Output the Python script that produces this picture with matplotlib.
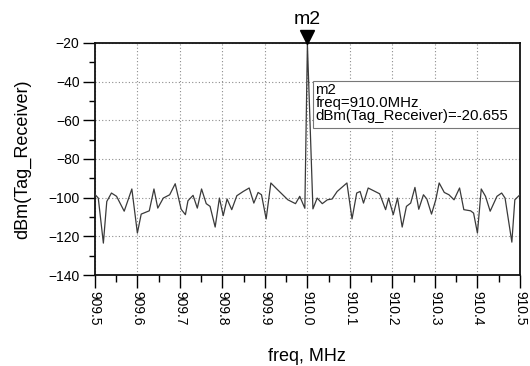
import matplotlib
matplotlib.use("Agg")
import matplotlib.pyplot as plt
from matplotlib.patches import Rectangle
from matplotlib.ticker import MultipleLocator
from matplotlib.transforms import offset_copy

plt.rcParams['font.family'] = ['Liberation Sans', 'DejaVu Sans']

# Spectrum of the tag receiver output around the 910 MHz carrier
freq_mhz = [
    909.500, 909.508, 909.520, 909.528, 909.539, 909.551, 909.569, 909.587,
    909.600, 909.609, 909.628, 909.639, 909.648, 909.661, 909.676, 909.689,
    909.703, 909.713, 909.719, 909.731, 909.741, 909.751, 909.762, 909.771,
    909.783, 909.793, 909.802, 909.811, 909.822, 909.834, 909.849, 909.863,
    909.874, 909.884, 909.892, 909.903, 909.914, 909.928, 909.954, 909.972,
    909.982, 909.994, 910.000, 910.013, 910.023, 910.035, 910.047, 910.058,
    910.070, 910.093, 910.105, 910.116, 910.124, 910.132, 910.143, 910.170,
    910.184, 910.191, 910.202, 910.212, 910.223, 910.233, 910.243, 910.253,
    910.262, 910.273, 910.281, 910.292, 910.302, 910.310, 910.322, 910.333,
    910.345, 910.358, 910.368, 910.384, 910.391, 910.400, 910.409, 910.419,
    910.430, 910.446, 910.457, 910.465, 910.481, 910.488, 910.500,
]
dbm_tag_receiver = [
    -98.3, -100.2, -123.5, -102.0, -97.6, -99.3, -107.0, -95.5,
    -118.3, -108.5, -106.8, -95.5, -105.4, -100.2, -98.5, -92.8,
    -106.0, -108.8, -101.6, -98.8, -105.4, -95.5, -103.1, -104.5,
    -115.2, -100.2, -109.3, -100.7, -106.2, -99.0, -96.8, -95.0,
    -102.8, -97.3, -98.5, -111.0, -92.4, -95.5, -101.1, -103.1,
    -99.3, -105.5, -20.655, -105.8, -100.2, -103.1, -101.1, -100.7,
    -96.8, -92.4, -111.0, -97.6, -96.8, -102.8, -95.0, -98.0,
    -106.2, -100.2, -108.8, -100.2, -115.2, -104.5, -102.8, -94.7,
    -106.0, -98.5, -100.7, -108.5, -101.1, -92.4, -97.3, -98.5,
    -101.1, -95.0, -106.2, -106.8, -108.0, -118.3, -95.5, -99.3,
    -107.0, -99.3, -97.6, -100.2, -123.0, -101.1, -98.5,
]

x_ticks = [909.5, 909.6, 909.7, 909.8, 909.9, 910.0, 910.1, 910.2, 910.3, 910.4, 910.5]
x_tick_labels = ["909.5", "909.6", "909.7", "909.8", "909.9", "910.0",
                 "910.1", "910.2", "910.3", "910.4", "910.5"]
y_ticks = [-140, -120, -100, -80, -60, -40, -20]

marker_name = "m2"
marker_freq = 910.0
marker_value = -20.655

fig = plt.figure(figsize=(5.3, 3.66), dpi=100)
ax = fig.add_axes([0.179, 0.2486, 0.802, 0.634])

ax.plot(freq_mhz, dbm_tag_receiver, color="#3a3a3a", lw=0.9, zorder=3)

ax.set_xlim(909.5, 910.5)
ax.set_ylim(-140, -20)
ax.set_xticks(x_ticks)
ax.set_xticklabels(x_tick_labels, rotation=-90, fontsize=10)
ax.set_yticks(y_ticks)
ax.tick_params(axis='y', labelsize=10)
ax.xaxis.set_minor_locator(MultipleLocator(0.05))
ax.yaxis.set_minor_locator(MultipleLocator(10))
ax.tick_params(axis='x', which='major', length=9.5, width=1.0, direction='out', pad=2)
ax.tick_params(axis='x', which='minor', length=5, width=1.0, direction='out')
ax.tick_params(axis='y', which='major', length=9, width=1.0, direction='out', pad=2)
ax.tick_params(axis='y', which='minor', length=4, width=1.0, direction='out')

ax.grid(True, which='major', color="#8c8c8c", linestyle=(0, (1, 2)), lw=0.8, zorder=0)
for side in ax.spines.values():
    side.set_color("#111111")
    side.set_linewidth(1.3)

ax.set_xlabel("freq, MHz", fontsize=13, labelpad=16)
ax.set_ylabel("dBm(Tag_Receiver)", fontsize=13, labelpad=12)

# Marker readout box
box = Rectangle((910.012, -64.0), 0.488, 24.5, facecolor="white",
                edgecolor="#777777", lw=0.8, zorder=2)
ax.add_patch(box)
ax.text(910.019, -40.8,
        f"{marker_name}\nfreq={marker_freq:.1f}MHz\ndBm(Tag_Receiver)={marker_value}",
        fontsize=10.8, linespacing=0.92, va='top', ha='left', zorder=4)

# Marker symbol sitting on the top edge, pointing at the peak
tri_tf = offset_copy(ax.transData, fig=fig, x=0, y=4.2, units='points')
ax.plot([marker_freq], [-20], marker='v', markersize=10, color="black",
        clip_on=False, zorder=5, transform=tri_tf)
ax.annotate(marker_name, xy=(marker_freq, -20), xytext=(0, 11),
            textcoords='offset points', ha='center', va='bottom',
            fontsize=14, annotation_clip=False)

fig.savefig("out.png", dpi=100)
